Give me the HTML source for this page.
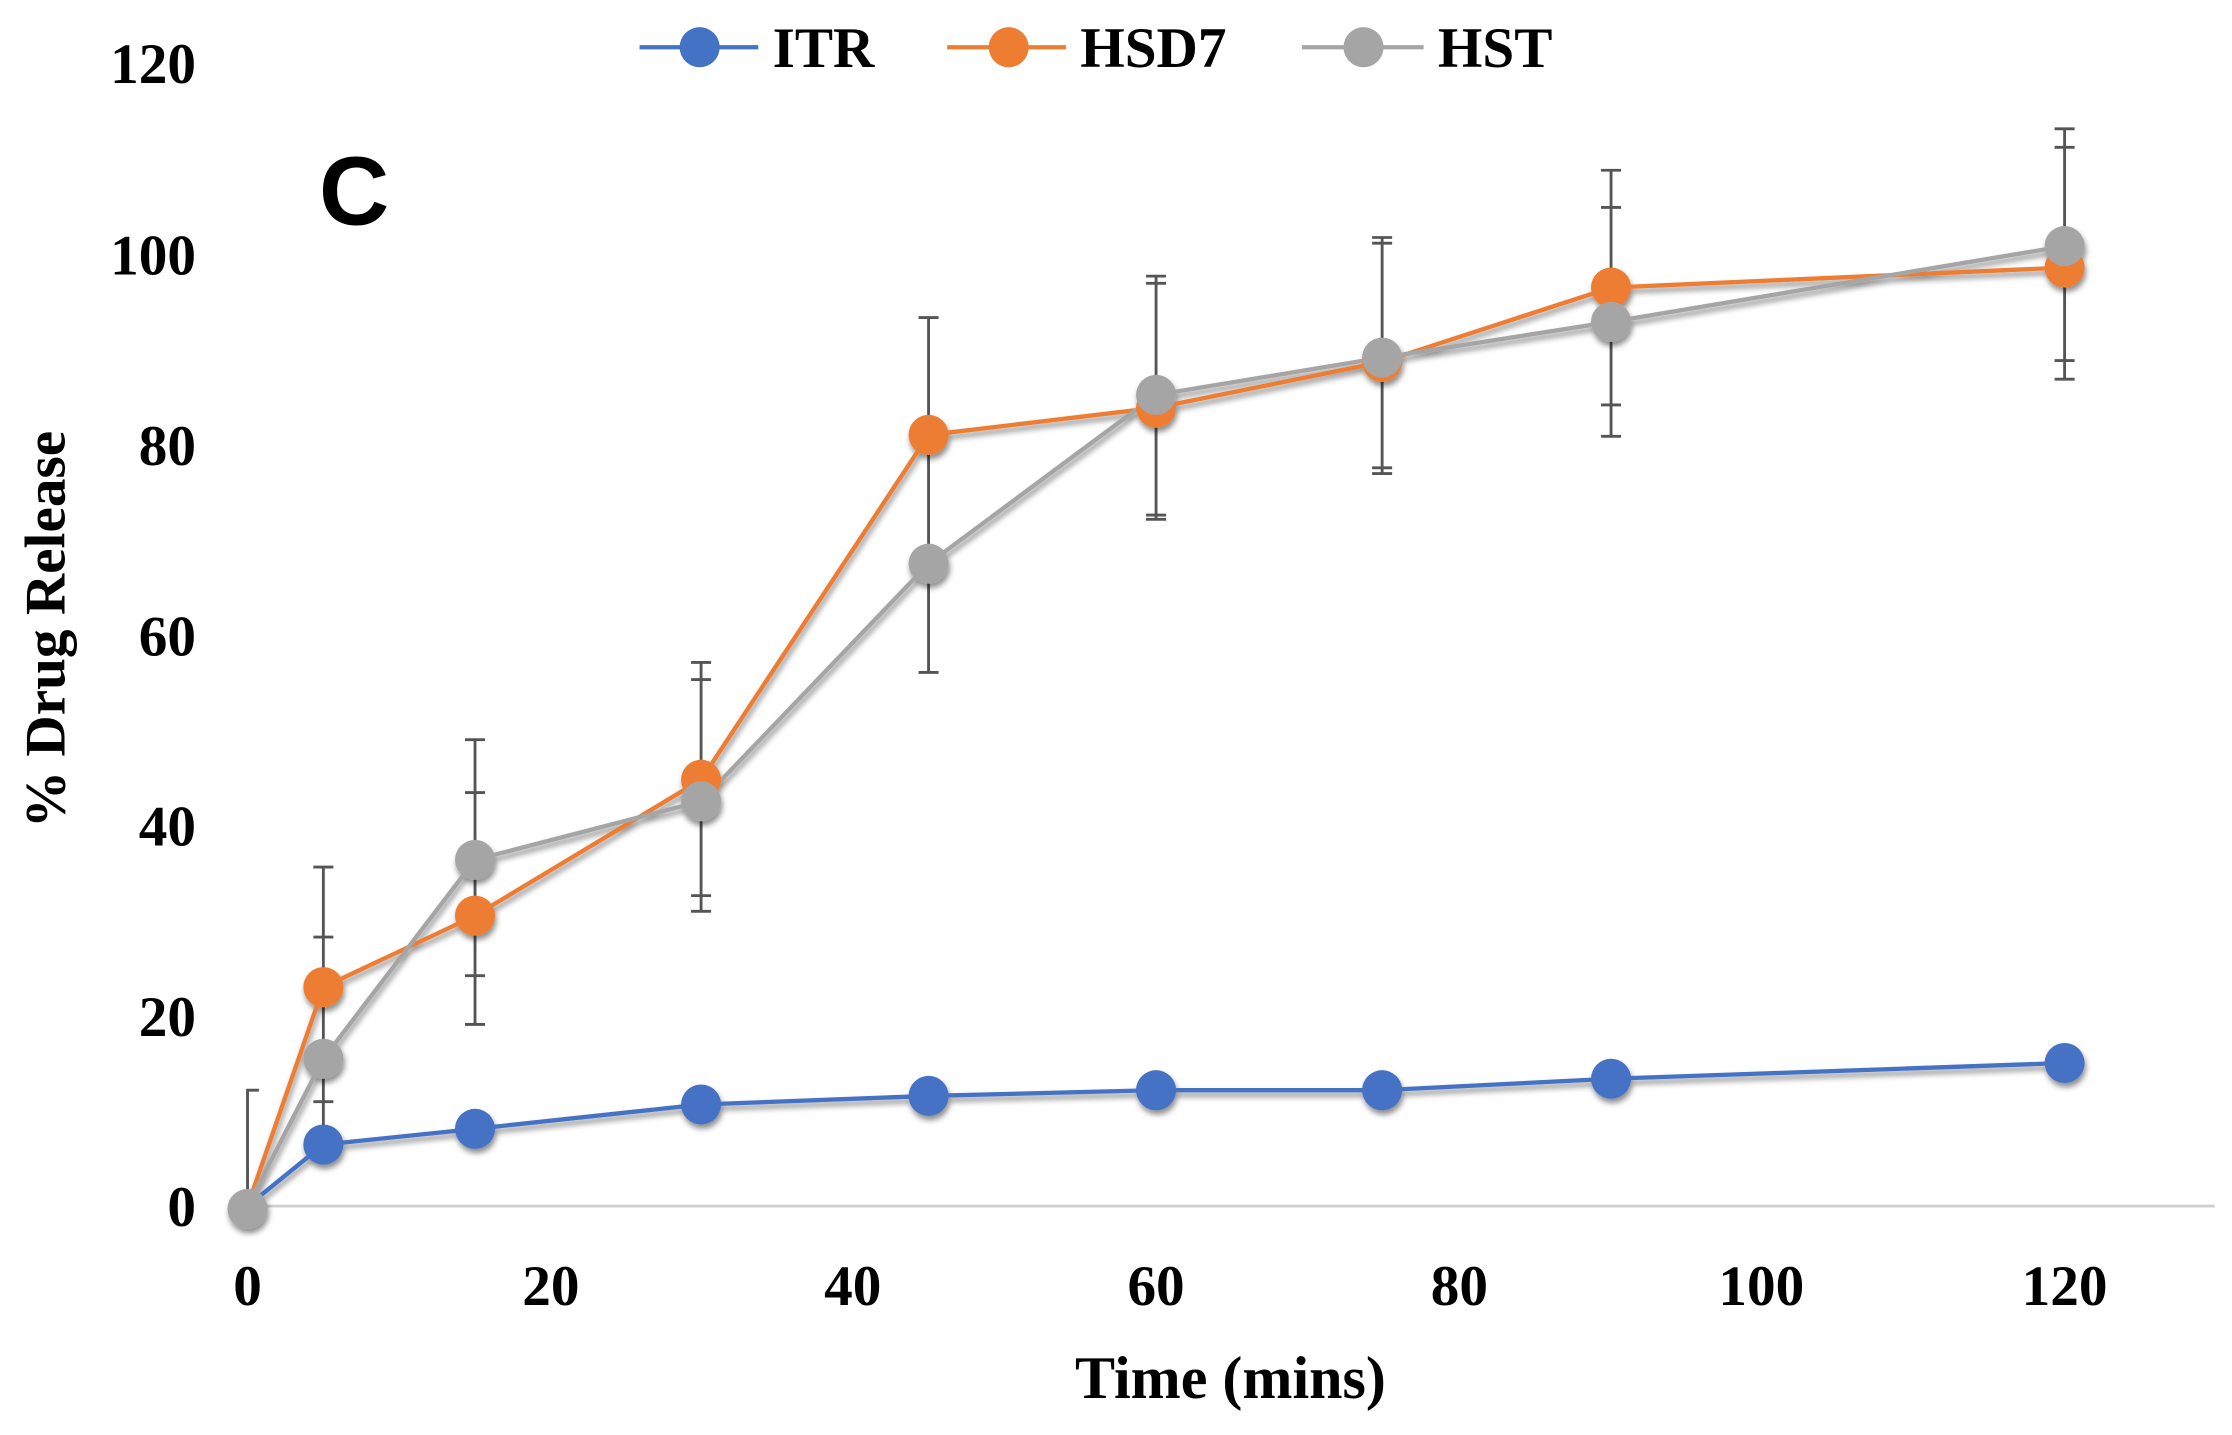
<!DOCTYPE html>
<html><head><meta charset="utf-8"><style>html,body{margin:0;padding:0;background:#fff}svg{display:block}</style></head>
<body>
<svg width="2232" height="1435" viewBox="0 0 1560 1003" preserveAspectRatio="none" xmlns="http://www.w3.org/2000/svg">
<defs><filter id="sh" x="-50%" y="-50%" width="200%" height="200%"><feDropShadow dx="1" dy="3" stdDeviation="2" flood-color="#000" flood-opacity="0.45"/></filter></defs>
<rect width="1560" height="1003" fill="#fff"/>
<line x1="173" y1="843" x2="1548" y2="843" stroke="#d0d0d0" stroke-width="2"/>
<g font-family="Liberation Serif, serif" font-weight="bold" font-size="40" fill="#000">
<g text-anchor="end">
<text x="137" y="58">120</text><text x="137" y="192">100</text><text x="137" y="325">80</text><text x="137" y="458">60</text><text x="137" y="591">40</text><text x="137" y="724">20</text><text x="137" y="857">0</text>
</g>
<g text-anchor="middle">
<text x="173" y="912">0</text><text x="385" y="912">20</text><text x="596" y="912">40</text><text x="808" y="912">60</text><text x="1020" y="912">80</text><text x="1231" y="912">100</text><text x="1443" y="912">120</text>
<text x="860" y="977" font-size="42">Time (mins)</text>
<text transform="translate(45,440) rotate(-90)" font-size="40">% Drug Release</text>
</g>
<text x="540" y="47">ITR</text><text x="755" y="47">HSD7</text><text x="1005" y="47">HST</text>
</g>
<text x="223" y="157" font-family="Liberation Sans, sans-serif" font-weight="bold" font-size="68">C</text>
<!-- legend -->
<line x1="447" y1="33" x2="530" y2="33" stroke="#4472C4" stroke-width="3"/><circle cx="489" cy="33" r="14" fill="#4472C4"/>
<line x1="662" y1="33" x2="745" y2="33" stroke="#ED7D31" stroke-width="3"/><circle cx="705" cy="33" r="14" fill="#ED7D31"/>
<line x1="910" y1="33" x2="995" y2="33" stroke="#A5A5A5" stroke-width="3"/><circle cx="953" cy="33" r="14" fill="#A5A5A5"/>
<!-- error bars -->
<g stroke="#555" stroke-width="2" fill="none">
<path d="M173 843V762H181"/>
<path d="M226 606V790M219 606H233M219 655H233M219 770H233"/>
<path d="M332 517V716M325 517H339M325 554H339M325 682H339M325 716H339"/>
<path d="M490 463V637M483 463H497M483 475H497M483 626H497M483 637H497"/>
<path d="M649 222V470M642 222H656M642 470H656"/>
<path d="M808 193V363M801 193H815M801 198H815M801 360H815M801 363H815"/>
<path d="M966 166V331M959 166H973M959 170H973M959 327H973M959 331H973"/>
<path d="M1126 119V305M1119 119H1133M1119 145H1133M1119 283H1133M1119 305H1133"/>
<path d="M1443 90V265M1436 90H1450M1436 103H1450M1436 252H1450M1436 265H1450"/>
</g>
<!-- series -->
<g filter="url(#sh)">
<polyline fill="none" stroke="#ED7D31" stroke-width="3" points="173,843 226,690 332,640 490,545 649,304 808,285 966,253 1126,201 1443,187"/>
<polyline fill="none" stroke="#A5A5A5" stroke-width="3" points="173,843 226,740 332,601 490,560 649,394 808,276 966,250 1126,225 1443,172"/>
<polyline fill="none" stroke="#4472C4" stroke-width="3" points="173,843 226,800 332,789 490,772 649,766 808,762 966,762 1126,754 1443,743"/>
<g fill="#ED7D31"><circle cx="226" cy="690" r="14"/><circle cx="332" cy="640" r="14"/><circle cx="490" cy="545" r="14"/><circle cx="649" cy="304" r="14"/><circle cx="808" cy="285" r="14"/><circle cx="966" cy="253" r="14"/><circle cx="1126" cy="201" r="14"/><circle cx="1443" cy="187" r="14"/></g>
<g fill="#A5A5A5"><circle cx="226" cy="740" r="14"/><circle cx="332" cy="601" r="14"/><circle cx="490" cy="560" r="14"/><circle cx="649" cy="394" r="14"/><circle cx="808" cy="276" r="14"/><circle cx="966" cy="250" r="14"/><circle cx="1126" cy="225" r="14"/><circle cx="1443" cy="172" r="14"/></g>
<g fill="#4472C4"><circle cx="226" cy="800" r="14"/><circle cx="332" cy="789" r="14"/><circle cx="490" cy="772" r="14"/><circle cx="649" cy="766" r="14"/><circle cx="808" cy="762" r="14"/><circle cx="966" cy="762" r="14"/><circle cx="1126" cy="754" r="14"/><circle cx="1443" cy="743" r="14"/></g>
<circle cx="173" cy="845" r="14" fill="#A5A5A5"/>
</g>
</svg>
</body></html>
